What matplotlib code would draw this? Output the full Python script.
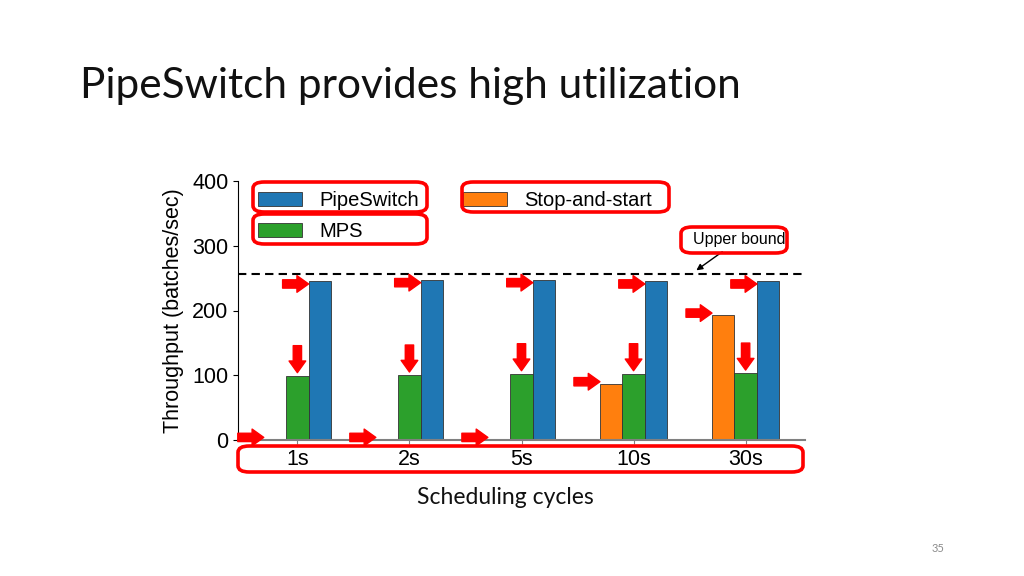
import matplotlib
matplotlib.use("Agg")
import matplotlib.pyplot as plt
import numpy as np
from matplotlib.patches import FancyBboxPatch

# data
cycles = ['1s', '2s', '5s', '10s', '30s']
pipeswitch = [245, 247, 247, 245, 245]
mps = [99, 100, 102, 102, 103]
stop_and_start = [1, 1, 1, 87, 193]
upper_bound = 256

W, H = 1024, 576
fig = plt.figure(figsize=(W / 100, H / 100), dpi=100)
ax = fig.add_axes([238 / W, 1 - 440 / H, (805 - 238) / W, (440 - 181) / H])

plt.rcParams['font.family'] = ['Liberation Sans', 'DejaVu Sans']
chart_font = 'Liberation Sans'

x = np.arange(len(cycles))
w = 0.2
ax.bar(x - w, stop_and_start, w, color='#ff7f0e', edgecolor='#333333', linewidth=0.6, label='Stop-and-start')
ax.bar(x, mps, w, color='#2ca02c', edgecolor='#333333', linewidth=0.6, label='MPS')
ax.bar(x + w, pipeswitch, w, color='#1f77b4', edgecolor='#333333', linewidth=0.6, label='PipeSwitch')

ax.axhline(upper_bound, ls='--', color='black', lw=1.5, dashes=(4, 2.5))

ax.set_ylim(0, 400)
ax.set_yticks([0, 100, 200, 300, 400])
ax.set_xticks(x)
ax.set_xticklabels(cycles)
ax.tick_params(axis='both', labelsize=15.5)
ax.tick_params(axis='x', length=3, color='#808080')
for lab in ax.get_xticklabels() + ax.get_yticklabels():
    lab.set_fontfamily(chart_font)
ax.set_ylabel('Throughput (batches/sec)', fontsize=15.5, fontfamily=chart_font, labelpad=6)
ax.spines['top'].set_visible(False)
ax.spines['right'].set_visible(False)
ax.spines['bottom'].set_color('#808080')
ax.spines['bottom'].set_linewidth(1.5)

handles, labels = ax.get_legend_handles_labels()
order = [2, 1, 0]
ax.legend([handles[i] for i in order], [labels[i] for i in order], ncol=2,
          loc='upper left', bbox_to_anchor=(0.003, 1.03), frameon=False,
          prop={'family': chart_font, 'size': 14.5}, handlelength=2.2,
          handletextpad=0.85, columnspacing=2.2, labelspacing=0.6)

ax.annotate('Upper bound', xy=(3.56, 262), xytext=(3.94, 309), ha='center', va='center',
            fontsize=11.5, fontfamily=chart_font,
            arrowprops=dict(arrowstyle='-|>', color='black', lw=1, shrinkA=2, shrinkB=0,
                            mutation_scale=9))

# red pointer arrows
red_arrow = dict(arrowstyle='simple,head_length=0.7,head_width=1.0,tail_width=0.5',
                 color='red', mutation_scale=12, shrinkA=0, shrinkB=0)
for i in range(len(cycles)):
    ax.annotate('', xy=(x[i] + w / 2, pipeswitch[i] - 4), xytext=(-26, 0),
                textcoords='offset pixels', arrowprops=red_arrow)
    ax.annotate('', xy=(x[i] - 1.5 * w, stop_and_start[i] + 3), xytext=(-26, 0),
                textcoords='offset pixels', arrowprops=red_arrow)
    ax.annotate('', xy=(x[i], mps[i] + 5), xytext=(0, 27),
                textcoords='offset pixels', arrowprops=red_arrow)

# red highlight boxes (pixel coordinates on the slide)
boxes = [(253, 182, 427, 212), (253, 214, 427, 244), (462, 182, 669, 212),
         (681, 227, 787, 253), (238, 446, 803, 472)]
for x0, y0, x1, y1 in boxes:
    fig.patches.append(FancyBboxPatch((x0 / W, 1 - y1 / H), (x1 - x0) / W, (y1 - y0) / H,
                                      boxstyle='round,pad=0,rounding_size=0.011',
                                      transform=fig.transFigure, fill=False,
                                      edgecolor='red', linewidth=2.6))

fig.text(80 / W, 1 - 86 / H, 'PipeSwitch provides high utilization', fontsize=30.5,
         fontfamily='Lato', va='center', ha='left', color='#111111')
fig.text(505 / W, 1 - 497 / H, 'Scheduling cycles', fontsize=16.5, fontfamily='Lato',
         va='center', ha='center', color='#111111')
fig.text(938 / W, 1 - 549 / H, '35', fontsize=8, fontfamily='Lato', va='center',
         ha='center', color='#8c8c8c')

fig.savefig('out.png', dpi=100)
